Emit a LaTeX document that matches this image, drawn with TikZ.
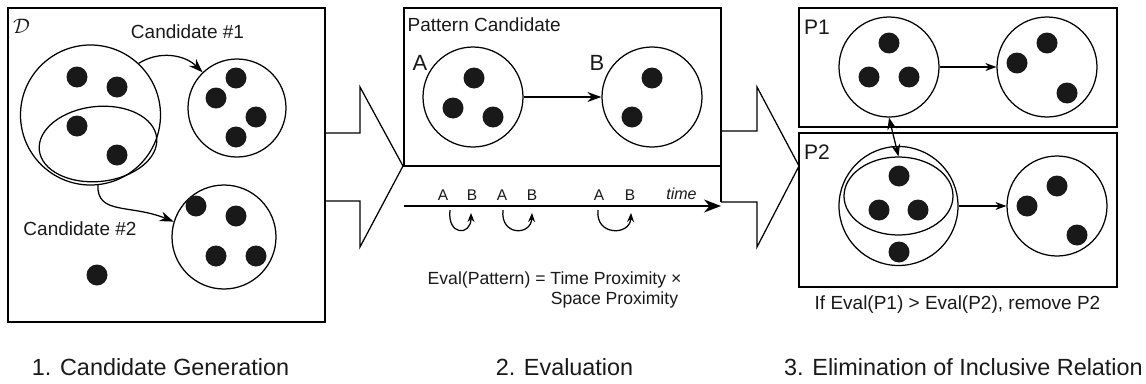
\RequirePackage{fix-cm}
\documentclass[tikz,border=0pt]{standalone}
\usepackage{fontspec}
\setmainfont{Liberation Sans}
\usetikzlibrary{arrows.meta,shapes.geometric}
\newcommand\myfs[1]{\fontsize{#1}{#1}\selectfont}
\begin{document}
\begin{tikzpicture}[x=1pt,y=-1pt,line width=1.25pt,
  every node/.style={inner sep=0pt,text=black!90},
  grp/.style={circle,draw,minimum size=#1},
  oval/.style={ellipse,draw},
  blob/.style={fill=black!90},
  boxline/.style={draw},
  lbl/.style={font=\myfs{19}},
  bigl/.style={font=\myfs{22}},
  axl/.style={font=\myfs{15.5}},
  captxt/.style={font=\myfs{23.4}},
  arr/.style={-{Stealth[length=14pt,width=10pt]}},
  sarr/.style={-{Stealth[length=11pt,width=8pt]}},
  tarr/.style={-{Stealth[length=9pt,width=7pt]}},
  darr/.style={{Stealth[length=12pt,width=9pt]}-{Stealth[length=12pt,width=9pt]}},
  bigarrow/.style={draw,line join=miter}]
\useasboundingbox (0,0) rectangle (1146,383);

% ---------------- Panel 1 ----------------
\draw[boxline] (8,8) rectangle (325,322);
\node[font=\myfs{21}] (dsym) at (21.5,26) {$\mathcal{D}$};
\node[lbl] (cand1) at (187.5,32) {Candidate \#1};
\node[lbl] (cand2) at (80,229) {Candidate \#2};
\node[grp=140pt] (bigc) at (90.5,115) {};
\node[oval,minimum width=118pt,minimum height=75pt,rotate=6] (e1) at (98,144) {};
\node[grp=98pt] (c1) at (237,108) {};
\node[grp=104pt] (c2) at (224,237) {};
\foreach \x/\y in {77/77,117/87,77/126,117/155,236/78,216/98,256/117,236/137,196/206,236/216,216/256,256/256,97/275}
  \fill[blob] (\x,\y) circle[radius=10.5pt];
\draw[arr] (bigc.47) .. controls (160,50) and (185,55) .. (c1.134);
\draw[arr] (bigc.-84) .. controls (97,215) and (130,204) .. (c2.163);

% big arrow 1
\draw[bigarrow] (325,133) -- (360,133) -- (360,87) -- (403,166) -- (360,247) -- (360,201) -- (325,201);

% ---------------- Panel 2 ----------------
\draw[boxline] (404,8) rectangle (721,166);
\draw (721,166) -- (721,202);
\node[lbl,anchor=west] (pc) at (407,25) {Pattern Candidate};
\node[bigl] (la) at (420,63) {A};
\node[bigl] (lb) at (597,63) {B};
\node[grp=100pt] (ca) at (473,97) {};
\node[grp=100pt] (cb) at (652,97) {};
\foreach \x/\y in {474/78,453/108,493/117,652/78,632/117}
  \fill[blob] (\x,\y) circle[radius=10.5pt];
\draw[arr] (ca.east) -- (cb.west);

\coordinate (t0) at (404,206);
\coordinate (t1) at (721,206);
\draw[-{Stealth[length=17pt,width=13pt]}] (t0) -- (t1);
\node[axl] (a1) at (443,195) {A};
\node[axl] (b1) at (472,195) {B};
\node[axl] (a2) at (502,195) {A};
\node[axl] (b2) at (532,195) {B};
\node[axl] (a3) at (599,195) {A};
\node[axl] (b3) at (630,195) {B};
\node[font=\myfs{16}\itshape] (tm) at (681.5,194) {time};
\coordinate (s1) at (450,210); \coordinate (e1t) at (471,213);
\coordinate (s2) at (503,210); \coordinate (e2t) at (532,213);
\coordinate (s3) at (598,210); \coordinate (e3t) at (631,213);
\draw[tarr] (s1) .. controls (447,236) and (471,236) .. (e1t);
\draw[tarr] (s2) .. controls (500,236) and (531,236) .. (e2t);
\draw[tarr] (s3) .. controls (595,236) and (630,236) .. (e3t);

\node[font=\myfs{17.6}] (ev1) at (554.5,280) {Eval(Pattern) = Time Proximity ×};
\node[font=\myfs{17.6}] (ev2) at (614.5,300) {Space Proximity};

% big arrow 2
\draw[bigarrow] (721,131) -- (757,131) -- (757,87) -- (799,166) -- (757,247) -- (757,202) -- (721,202);

% ---------------- Panel 3 ----------------
\draw[boxline] (799,8) rectangle (1117,127);
\draw[boxline] (799,133) rectangle (1117,287);
\node[font=\myfs{21}] (p1) at (817,27.5) {P1};
\node[font=\myfs{21}] (p2) at (817,152) {P2};
\node[grp=100pt] (p1a) at (889,67) {};
\node[grp=100pt] (p1b) at (1047,67) {};
\node[grp=119pt] (p2a) at (898.5,206) {};
\node[oval,minimum width=109pt,minimum height=78pt] (p2e) at (898.5,196) {};
\node[grp=100pt] (p2b) at (1057,206) {};
\foreach \x/\y in {889/43,869/77,909/77,1047/43,1017/63,1067/93,899/176,879/210,918/210,899/252,1057/186,1027/206,1077/235}
  \fill[blob] (\x,\y) circle[radius=10.5pt];
\draw[sarr] (p1a.east) -- (p1b.west);
\draw[sarr] (p2a.east) -- (p2b.west);
\draw[darr] (p1a.south) -- (p2e.north);
\node[lbl] (rule) at (957.5,305) {If Eval(P1) > Eval(P2), remove P2};

% ---------------- captions ----------------
\node[captxt] (t1c) at (160.5,367) {1. Candidate Generation};
\node[captxt] (t2c) at (564.5,367) {2. Evaluation};
\node[captxt] (t3c) at (963.5,367) {3. Elimination of Inclusive Relation};
\end{tikzpicture}
\end{document}
